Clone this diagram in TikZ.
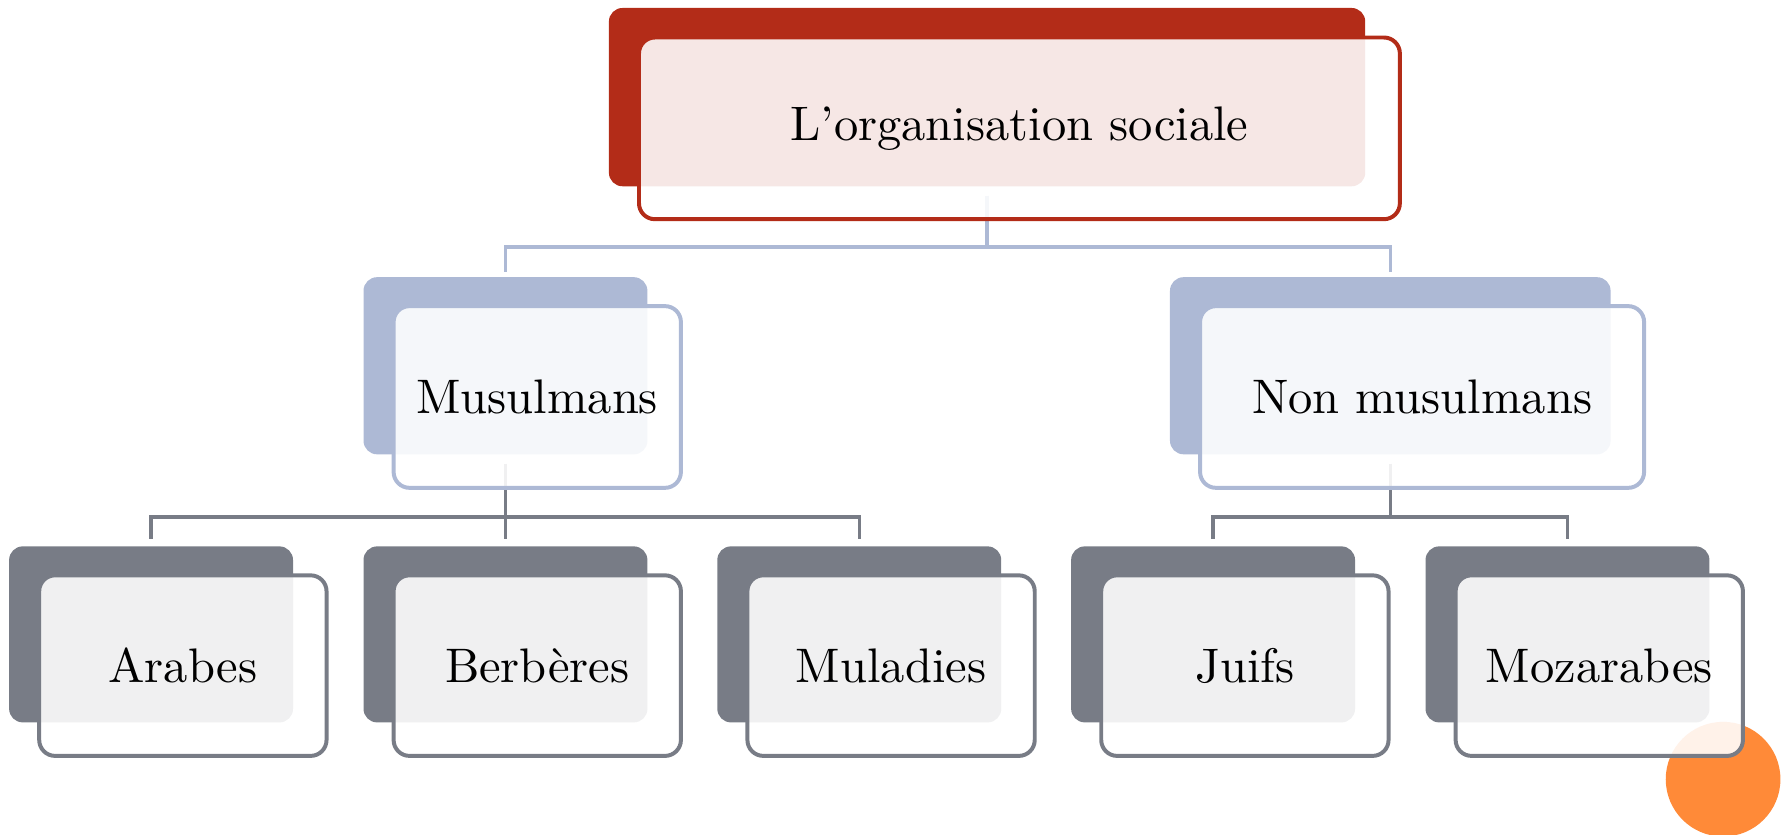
\documentclass[tikz,border=0pt]{standalone}
\usepackage{fontspec}
\newfontfamily\lmten{lmroman10-regular}[Extension=.otf]
\definecolor{redc}{HTML}{B32C18}
\definecolor{bluec}{HTML}{ADB9D5}
\definecolor{grayc}{HTML}{787C86}
\definecolor{orangec}{HTML}{FF8A38}
\begin{document}
\begin{tikzpicture}[x=0.02cm,y=-0.02cm,
  back/.style={rounded corners=0.24cm, inner sep=0pt},
  front/.style={rounded corners=0.28cm, line width=0.07cm, fill=white, fill opacity=0.89, text opacity=1, inner sep=0pt, font=\lmten\fontsize{24.3}{30}\selectfont},
  conn/.style={line width=0.06cm}]
\useasboundingbox (0,0) rectangle (1568,735);
\begin{scope}
\clip (0,0) rectangle (1568,735);
\fill[orangec] (1517,686) circle (1.01cm);
\end{scope}
% back rectangles
\node[back, fill=redc, minimum width=13.32cm, minimum height=3.14cm] (tb) at (869,85.5) {};
\node[back, fill=bluec, minimum width=5cm, minimum height=3.12cm] (mb) at (445,322) {};
\node[back, fill=bluec, minimum width=7.76cm, minimum height=3.12cm] (nb) at (1224,322) {};
\node[back, fill=grayc, minimum width=5cm, minimum height=3.1cm] (ab) at (133,558.5) {};
\node[back, fill=grayc, minimum width=5cm, minimum height=3.1cm] (bb) at (445,558.5) {};
\node[back, fill=grayc, minimum width=5cm, minimum height=3.1cm] (cb) at (756.5,558.5) {};
\node[back, fill=grayc, minimum width=5cm, minimum height=3.1cm] (jb) at (1068,558.5) {};
\node[back, fill=grayc, minimum width=5cm, minimum height=3.1cm] (zb) at (1380,558.5) {};
% connectors
\draw[conn, bluec] ([yshift=-0.16cm]tb.south) -- ++(0,45) -| ([yshift=0.08cm]mb.north);
\draw[conn, bluec] ([yshift=-0.16cm]tb.south) -- ++(0,45) -| ([yshift=0.08cm]nb.north);
\draw[conn, grayc] ([yshift=-0.16cm]mb.south) -- ++(0,47) -| ([yshift=0.12cm]ab.north);
\draw[conn, grayc] ([yshift=-0.16cm]mb.south) -- ++(0,47) -| ([yshift=0.12cm]bb.north);
\draw[conn, grayc] ([yshift=-0.16cm]mb.south) -- ++(0,47) -| ([yshift=0.12cm]cb.north);
\draw[conn, grayc] ([yshift=-0.16cm]nb.south) -- ++(0,47) -| ([yshift=0.12cm]jb.north);
\draw[conn, grayc] ([yshift=-0.16cm]nb.south) -- ++(0,47) -| ([yshift=0.12cm]zb.north);
% front boxes
\node[front, draw=redc, minimum width=13.4cm, minimum height=3.2cm] (tf) at (897.5,113) {L’organisation sociale};
\node[front, draw=bluec, minimum width=5.06cm, minimum height=3.2cm] (mf) at (473,349.5) {Musulmans};
\node[front, draw=bluec, minimum width=7.82cm, minimum height=3.2cm] (nf) at (1252,349.5) {Non musulmans};
\node[front, draw=grayc, minimum width=5.06cm, minimum height=3.18cm] (af) at (161,586) {Arabes};
\node[front, draw=grayc, minimum width=5.06cm, minimum height=3.18cm] (bf) at (473,586) {Berbères};
\node[front, draw=grayc, minimum width=5.06cm, minimum height=3.18cm] (cf) at (784.5,586) {Muladies};
\node[front, draw=grayc, minimum width=5.06cm, minimum height=3.18cm] (jf) at (1096,586) {Juifs};
\node[front, draw=grayc, minimum width=5.06cm, minimum height=3.18cm] (zf) at (1408,586) {Mozarabes};
\end{tikzpicture}
\end{document}
